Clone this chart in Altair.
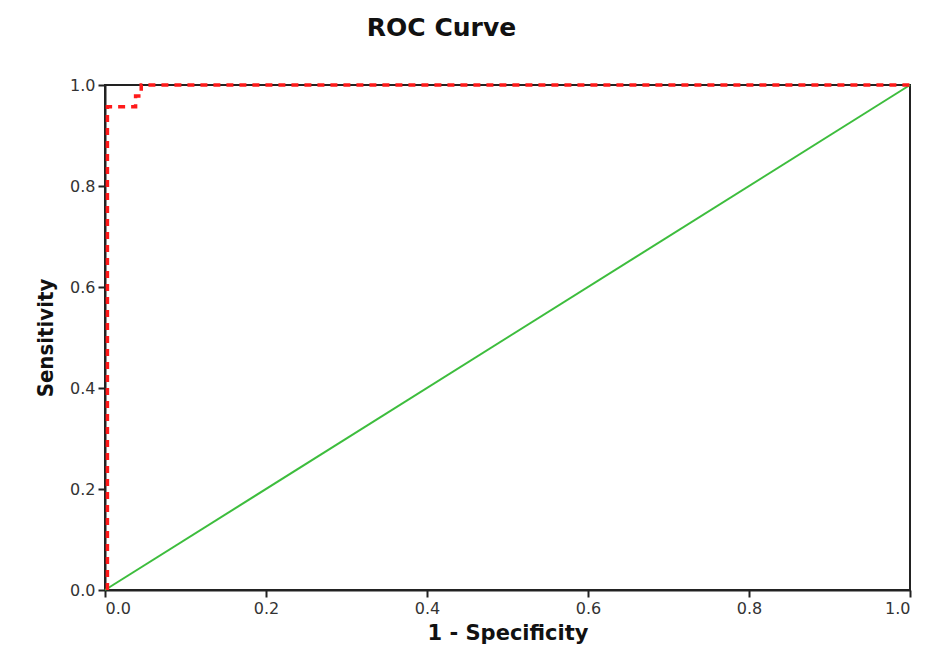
import altair as alt
import pandas as pd

# ROC curve (step points)
roc_x = [0.003, 0.003, 0.038, 0.038, 0.045, 0.045, 1.0]
roc_y = [0.0, 0.957, 0.957, 0.978, 0.978, 1.0, 1.0]
# reference diagonal
ref_x = [0.0, 1.0]
ref_y = [0.0, 1.0]
ticks = [0.0, 0.2, 0.4, 0.6, 0.8, 1.0]

roc = pd.DataFrame({"x": roc_x, "y": roc_y, "o": list(range(len(roc_x)))})
ref = pd.DataFrame({"x": ref_x, "y": ref_y, "o": [0, 1]})

xs = alt.Scale(domain=[0, 1], nice=False)
ys = alt.Scale(domain=[0, 1], nice=False)

xax = alt.Axis(values=ticks, format=".1f", title="1 - Specificity", grid=False,
               labelFont="DejaVu Sans", labelFontSize=16, labelColor="#333",
               titleFont="DejaVu Sans", titleFontSize=21, titleFontWeight="bold",
               titleColor="#111", titlePadding=6, domainColor="#222", domainWidth=2,
               tickColor="#222", tickWidth=2, tickSize=7, labelPadding=3)
yax = alt.Axis(values=ticks, format=".1f", title="Sensitivity", grid=False,
               labelFont="DejaVu Sans", labelFontSize=16, labelColor="#333",
               titleFont="'DejaVu Sans Condensed', 'Liberation Sans'", titleFontSize=22,
               titleFontWeight="bold",
               titleColor="#111", titlePadding=12, domainColor="#222", domainWidth=2,
               tickColor="#222", tickWidth=2, tickSize=7, labelPadding=3)

diag = alt.Chart(ref).mark_line(color="#3dbd3d", strokeWidth=2).encode(
    x=alt.X("x:Q", scale=xs, axis=xax),
    y=alt.Y("y:Q", scale=ys, axis=yax),
    order="o:Q",
)
curve = alt.Chart(roc).mark_line(color="#ff1a1a", strokeWidth=3.5, strokeDash=[7, 6],
                                 clip=False).encode(
    x=alt.X("x:Q", scale=xs),
    y=alt.Y("y:Q", scale=ys),
    order="o:Q",
)

chart = alt.layer(diag, curve).properties(
    width=805, height=505,
    title=alt.TitleParams("ROC Curve", font="DejaVu Sans", fontSize=25,
                          fontWeight="bold", color="#111", dx=-66, offset=36),
    autosize=alt.AutoSizeParams(type="none"),
    padding={"left": 97, "top": 77, "right": 8, "bottom": 64},
).configure_view(stroke="#222", strokeWidth=2)

chart.save("out.html", embed_options={"renderer": "svg", "actions": False})
